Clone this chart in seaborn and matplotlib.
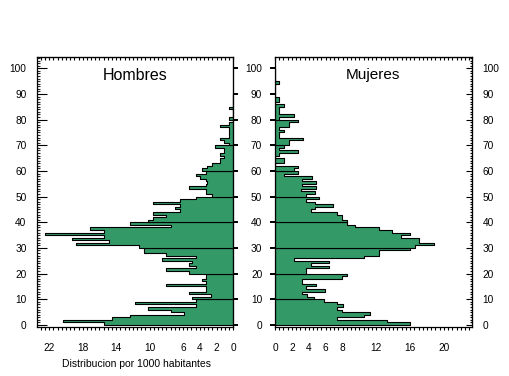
import numpy as np
import pandas as pd
import matplotlib
matplotlib.use("Agg")
import matplotlib.pyplot as plt
import seaborn as sns

# edades simples 0..100, distribucion por 1000 habitantes
edades = list(range(0, 101))

hombres = [15.5, 20.4, 14.5, 12.4, 5.9, 7.5, 10.2, 4.4, 11.8, 4.4,
           4.9, 2.7, 5.3, 3.3, 3.3, 8.0, 3.3, 3.7, 3.3, 3.3,
           5.3, 8.0, 4.4, 5.3, 4.9, 8.5, 4.4, 8.0, 10.7, 10.7,
           11.3, 18.8, 14.9, 19.3, 15.5, 22.5, 15.5, 17.1, 7.5, 12.4,
           10.2, 9.6, 8.0, 9.6, 6.4, 7.0, 6.4, 9.6, 6.4, 4.4,
           2.6, 3.3, 3.3, 5.3, 3.3, 3.2, 3.3, 4.0, 4.4, 3.3,
           3.7, 3.2, 2.6, 1.6, 1.6, 1.1, 1.6, 1.1, 1.1, 2.2,
           0.5, 1.1, 1.6, 0.5, 0.5, 0.5, 0.5, 1.6, 0.5, 0.0,
           0.5, 0.0, 0.0, 0.0, 0.5, 0.0, 0.0, 0.0, 0.0, 0.0,
           0.0, 0.0, 0.0, 0.0, 0.0, 0.0, 0.0, 0.0, 0.0, 0.0,
           0.0]

mujeres = [16.0, 13.3, 7.4, 10.5, 11.2, 7.9, 7.4, 8.0, 7.4, 5.8,
           4.6, 3.8, 3.2, 5.9, 3.7, 4.8, 3.2, 3.2, 7.9, 8.5,
           3.7, 3.7, 6.4, 4.3, 6.4, 2.2, 10.5, 12.3, 12.3, 16.0,
           16.6, 18.8, 17.0, 17.0, 14.9, 16.0, 13.8, 12.3, 9.5, 8.5,
           8.5, 7.9, 7.9, 7.4, 4.3, 4.7, 6.9, 4.7, 3.7, 5.2,
           3.7, 4.7, 3.1, 4.9, 3.2, 4.9, 3.2, 4.4, 1.1, 2.7,
           2.2, 2.7, 0.0, 1.1, 1.1, 0.0, 0.5, 2.7, 0.5, 1.1,
           1.6, 1.6, 3.3, 0.5, 0.5, 1.1, 0.5, 1.6, 1.6, 2.7,
           0.5, 2.2, 0.5, 0.5, 0.5, 1.1, 0.0, 0.5, 0.5, 0.0,
           0.0, 0.0, 0.0, 0.0, 0.5, 0.0, 0.0, 0.0, 0.0, 0.0,
           0.0]

ticks_edad = list(range(0, 101, 10))
ticks_hombres = [22, 18, 14, 10, 6, 4, 2, 0]
ticks_mujeres = [0, 2, 4, 6, 8, 12, 16, 20]

sns.set_style("white")
plt.rcParams['font.family'] = ['Liberation Sans', 'DejaVu Sans']
plt.rcParams['text.color'] = 'black'

df = pd.DataFrame({"edad": edades, "Hombres": hombres, "Mujeres": mujeres})
verde = "#339966"
fs = 7.3

fig = plt.figure(figsize=(5.09, 3.76), dpi=100)
ax_h = fig.add_axes([36.7 / 509, 49.3 / 376, 196.6 / 509, 269.7 / 376])
ax_m = fig.add_axes([275 / 509, 49.3 / 376, 196.7 / 509, 269.7 / 376])


def piramide(ax, col):
    # un poligono por decada, asi quedan las lineas en 10, 20, 30...
    for d in range(0, 101, 10):
        sub = df[(df.edad >= d) & (df.edad < d + 10)]
        if sub[col].sum() == 0:
            continue
        sns.histplot(data=sub, y="edad", weights=col, binwidth=1, binrange=(d, d + 10),
                     element="step", fill=True, color=verde, edgecolor="black",
                     linewidth=0.8, alpha=1, ax=ax)
    ax.set_xlabel("")
    ax.set_ylabel("")
    ax.set_ylim(-0.7, 104.4)
    for s in ax.spines.values():
        s.set_color("black")
        s.set_linewidth(0.9)
        s.set_visible(True)


piramide(ax_h, "Hombres")
piramide(ax_m, "Mujeres")

# Hombres
ax_h.set_xlim(23.5, 0)
ax_h.set_xticks(ticks_hombres)
ax_h.set_xticks(np.arange(0, 23.5, 0.5), minor=True)
ax_h.set_yticks(ticks_edad)
ax_h.set_yticks(range(0, 105), minor=True)
ax_h.tick_params(axis='y', which='major', direction='in', length=7, width=0.8,
                 left=True, right=False, labelsize=fs, pad=7.3, colors="black")
ax_h.tick_params(axis='y', which='minor', direction='in', length=1.8, width=0.8,
                 left=True, right=False)
ax_h.tick_params(axis='x', which='both', direction='out', length=2.2, width=0.8,
                 bottom=True, top=False, labelsize=fs, pad=9.3, colors="black")
der_h = ax_h.secondary_yaxis('right')
der_h.set_yticks(ticks_edad)
der_h.tick_params(direction='out', length=3.6, width=1.4, labelright=False, colors="black")
sup_h = ax_h.secondary_xaxis('top')
sup_h.set_xticks(np.arange(0, 23.5, 0.5))
sup_h.tick_params(direction='in', length=2, width=0.8, labeltop=False, colors="black")
ax_h.text(0.5, 0.933, "Hombres", transform=ax_h.transAxes, ha='center', va='center',
          fontsize=11.5, color="black")

# Mujeres
ax_m.set_xlim(0, 23.3)
ax_m.set_xticks(ticks_mujeres)
ax_m.set_xticks(np.arange(0, 23.3, 0.5), minor=True)
ax_m.set_yticks(ticks_edad)
ax_m.tick_params(axis='y', which='major', direction='out', length=3.6, width=1.4,
                 left=True, right=False, labelsize=fs, pad=5.6, colors="black")
ax_m.tick_params(axis='x', which='both', direction='out', length=2.2, width=0.8,
                 bottom=True, top=False, labelsize=fs, pad=9.3, colors="black")
der_m = ax_m.secondary_yaxis('right')
der_m.set_yticks(ticks_edad)
der_m.set_yticks(range(0, 105), minor=True)
der_m.tick_params(which='major', direction='in', length=4, width=0.8, labelsize=fs,
                  pad=7.9, colors="black")
der_m.tick_params(which='minor', direction='in', length=1.7, width=0.8, colors="black")
sup_m = ax_m.secondary_xaxis('top')
sup_m.set_xticks(np.arange(0, 23.3, 0.5))
sup_m.tick_params(direction='in', length=2, width=0.8, labeltop=False, colors="black")
ax_m.text(0.5, 0.933, "Mujeres", transform=ax_m.transAxes, ha='center', va='center',
          fontsize=11, color="black")

fig.text(136.7 / 509, 1 - 364 / 376, "Distribucion por 1000 habitantes",
         ha='center', va='center', fontsize=7.5)

fig.savefig("out.png", dpi=100)
